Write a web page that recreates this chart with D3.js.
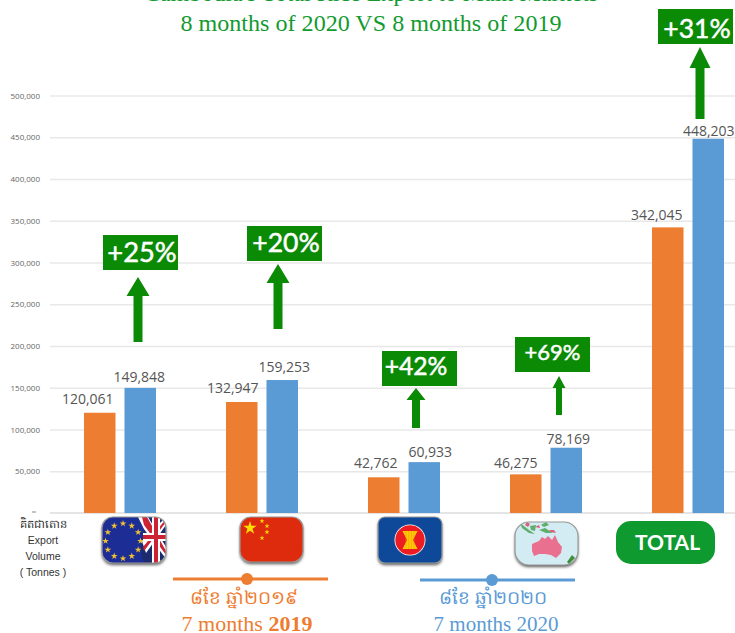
<!DOCTYPE html>
<html>
<head>
<meta charset="utf-8">
<script src="https://cdn.jsdelivr.net/npm/d3@7"></script>
<style>
  body { margin: 0; background: #fff; }
  svg { display: block; }
  .tick text { font-family: "Open Sans", sans-serif; font-size: 8px; fill: #666; }
  .tick line { stroke: #e8e8e8; stroke-width: 1.4; }
  .value { font-family: "Open Sans", sans-serif; font-size: 14px; fill: #555; text-anchor: middle; }
  .badge { font-family: Lato, sans-serif; font-weight: 400; fill: #fff; stroke: #fff; stroke-width: 0.5; text-anchor: middle; }
  .serif { font-family: "Liberation Serif", serif; text-anchor: middle; }
</style>
</head>
<body>
<svg width="735" height="633"></svg>
<script>
const categories = ["EU & UK", "China", "ASEAN", "Oceania", "TOTAL"];
const values2019 = [120061, 132947, 42762, 46275, 342045];
const values2020 = [149848, 159253, 60933, 78169, 448203];
const growthLabels = ["+25%", "+20%", "+42%", "+69%", "+31%"];
const yTicks = [50000, 100000, 150000, 200000, 250000, 300000, 350000, 400000, 450000, 500000];

// nudges, the labels are not centred on their bars
const labelDx2019 = [-12, -9, -8, -10, -11];
const labelDy2019 = [9, 9, 9, 6, 7];
const labelDx2020 = [-1, 2, 6, 2, 0.5];
const labelDy2020 = [6, 8, 5, 4, 3];

// badge [left, top, text centre, text baseline, font size]
const badgePos = [
  [103, 235, 142, 262, 27.3],
  [247, 226, 286, 252, 26.5],
  [382, 351, 416, 375, 24.7],
  [515, 337, 552.5, 360, 22],
  [658, 9, 697, 38, 26.5]
];
// arrow [x, tip, head base, tail, head width, shaft width]
const arrowPos = [
  [138, 277, 296, 342, 23, 9],
  [278, 264, 283, 329, 23, 9],
  [416, 388, 400, 428, 19, 8],
  [559, 376, 388, 415, 13, 6],
  [700, 47, 68, 119, 21, 9]
];

const orange = "#ed7d31", blue = "#5b9bd5", green = "#0b8a06", titleGreen = "#129a2f";

const svg = d3.select("svg");
const defs = svg.append("defs");

const yScale = d3.scaleLinear().domain([0, 500000]).range([513, 95.5]);
const xScale = d3.scaleBand().domain(categories)
  .range([48.5, 759.5]).paddingInner(0.493).paddingOuter(0.25);
const serie = d3.scaleBand().domain(["2019", "2020"])
  .range([0, xScale.bandwidth()]).paddingInner(0.222);

// title, first line is cut off by the top edge of the image
svg.append("text").attr("class", "serif")
  .attr("x", 371).attr("y", 1)
  .style("font-size", "24px").style("fill", titleGreen)
  .text("Cambodia's Total Rice Export to Main Markets");
svg.append("text").attr("class", "serif")
  .attr("x", 371).attr("y", 31)
  .style("font-size", "24.1px").style("fill", titleGreen)
  .text("8 months of 2020 VS 8 months of 2019");

const yAxis = d3.axisLeft(yScale)
  .tickValues(yTicks)
  .tickFormat(d3.format(","))
  .tickSize(-685)
  .tickPadding(10);

svg.append("g")
  .attr("transform", "translate(50,0)")
  .call(yAxis)
  .call(g => g.select(".domain").remove());

svg.append("line")
  .attr("x1", 50).attr("x2", 735)
  .attr("y1", yScale(0)).attr("y2", yScale(0))
  .style("stroke", "#ddd").style("stroke-width", 1.4);

svg.selectAll("rect.y2019")
  .data(values2019)
  .enter()
  .append("rect")
    .attr("class", "y2019")
    .attr("x", (d, i) => xScale(categories[i]) + serie("2019"))
    .attr("y", d => yScale(d))
    .attr("width", serie.bandwidth())
    .attr("height", d => yScale(0) - yScale(d))
    .style("fill", orange);

svg.selectAll("rect.y2020")
  .data(values2020)
  .enter()
  .append("rect")
    .attr("class", "y2020")
    .attr("x", (d, i) => xScale(categories[i]) + serie("2020"))
    .attr("y", d => yScale(d))
    .attr("width", serie.bandwidth())
    .attr("height", d => yScale(0) - yScale(d))
    .style("fill", blue);

svg.selectAll("text.v2019")
  .data(values2019)
  .enter()
  .append("text")
    .attr("class", "value v2019")
    .attr("x", (d, i) => xScale(categories[i]) + serie("2019") + serie.bandwidth() / 2 + labelDx2019[i])
    .attr("y", (d, i) => yScale(d) - labelDy2019[i])
    .text(d3.format(","));

svg.selectAll("text.v2020")
  .data(values2020)
  .enter()
  .append("text")
    .attr("class", "value v2020")
    .attr("x", (d, i) => xScale(categories[i]) + serie("2020") + serie.bandwidth() / 2 + labelDx2020[i])
    .attr("y", (d, i) => yScale(d) - labelDy2020[i])
    .text(d3.format(","));

// growth badges and arrows
svg.selectAll("rect.badgeBox")
  .data(badgePos)
  .enter()
  .append("rect")
    .attr("class", "badgeBox")
    .attr("x", d => d[0]).attr("y", d => d[1])
    .attr("width", 75).attr("height", 35)
    .style("fill", green);

svg.selectAll("text.badge")
  .data(growthLabels)
  .enter()
  .append("text")
    .attr("class", "badge")
    .attr("x", (d, i) => badgePos[i][2])
    .attr("y", (d, i) => badgePos[i][3])
    .style("font-size", (d, i) => badgePos[i][4] + "px")
    .text(d => d);

const arrowLine = d3.line();
svg.selectAll("path.arrow")
  .data(arrowPos)
  .enter()
  .append("path")
    .attr("class", "arrow")
    .style("fill", green)
    .attr("d", ([x, tip, base, tail, hw, sw]) => arrowLine([
      [x, tip], [x + hw / 2, base], [x + sw / 2, base], [x + sw / 2, tail],
      [x - sw / 2, tail], [x - sw / 2, base], [x - hw / 2, base]
    ]) + "Z");

// left caption
const caption = ["គិតជាតោន", "Export", "Volume", "( Tonnes )"];
svg.selectAll("text.caption")
  .data(caption)
  .enter()
  .append("text")
    .attr("class", "caption")
    .attr("x", 43)
    .attr("y", (d, i) => 528 + i * 16)
    .attr("text-anchor", "middle")
    .style("font-family", "'Liberation Sans', 'Noto Sans', sans-serif")
    .style("font-size", (d, i) => i == 0 ? "11.5px" : "10.5px")
    .style("fill", "#333")
    .text(d => d);

// small marker left of the baseline
svg.append("line").attr("x1", 32).attr("x2", 36).attr("y1", 512).attr("y2", 512)
  .style("stroke", "#888");

// icons under the bars
defs.append("filter").attr("id", "shadow")
  .attr("x", "-20%").attr("y", "-20%").attr("width", "140%").attr("height", "150%")
  .append("feDropShadow")
    .attr("dx", 0).attr("dy", 2).attr("stdDeviation", 1.8)
    .attr("flood-color", "#000").attr("flood-opacity", 0.65);
defs.append("filter").attr("id", "soft")
  .append("feGaussianBlur").attr("stdDeviation", 0.4);

function icon(id, x, y, w, h, r) {
  defs.append("clipPath").attr("id", id)
    .append("rect").attr("width", w).attr("height", h).attr("rx", r);
  const g = svg.append("g").attr("transform", `translate(${x},${y})`);
  g.append("rect").attr("width", w).attr("height", h).attr("rx", r)
    .style("fill", "#888").style("filter", "url(#shadow)");
  const inner = g.append("g").attr("clip-path", `url(#${id})`)
    .append("g").style("filter", "url(#soft)");
  g.append("rect").attr("width", w).attr("height", h).attr("rx", r)
    .style("fill", "none").style("stroke", "#9a9a9a").style("stroke-width", 1.2);
  return inner;
}

const star = d3.symbol().type(d3.symbolStar);

// EU + UK
const eu = icon("clipEU", 102, 517, 64, 46, 11);
eu.append("rect").attr("width", 64).attr("height", 46).style("fill", "#1d2f96");
eu.append("path").attr("d", "M42 0H64V46H42Q36 32 41 22Q44 10 36 0Z").style("fill", "#1c2c6e");
eu.append("path").attr("d", "M36 0H46L64 30V42L42 12ZM64 0V8L44 36L40 24Z").style("fill", "#fff");
eu.append("path").attr("d", "M40 0H45L64 34V38L42 8ZM64 2V5L42 34L41 30Z").style("fill", "#cc2136");
eu.append("path").attr("d", "M50 0H58V16H64V24H58V46H50V24H41V16H50Z").style("fill", "#fff");
eu.append("path").attr("d", "M52 0H56V18H64V22H56V46H52V22H41V18H52Z").style("fill", "#cc2136");
d3.range(12).forEach(i => {
  const a = i / 12 * 2 * Math.PI;
  eu.append("path")
    .attr("d", star.size(14)())
    .attr("transform", `translate(${21 + 17.5 * Math.sin(a)},${24 - 17.5 * Math.cos(a)})`)
    .style("fill", "#f2c230");
});

// China
const cn = icon("clipCN", 240, 517, 63, 45, 11);
cn.append("rect").attr("width", 63).attr("height", 45).style("fill", "#de2910");
cn.append("path").attr("d", star.size(55)()).attr("transform", "translate(10,11)").style("fill", "#ffde00");
[[22, 4], [27, 9], [27, 15], [22, 21]].forEach(p => {
  cn.append("path").attr("d", star.size(8)()).attr("transform", `translate(${p[0]},${p[1]})`).style("fill", "#ffde00");
});

// ASEAN
const as = icon("clipAS", 378, 517, 64, 46, 7);
as.append("rect").attr("width", 64).attr("height", 46).style("fill", "#0b4a98");
as.append("circle").attr("cx", 32).attr("cy", 23).attr("r", 15.5).style("fill", "#fff");
as.append("circle").attr("cx", 32).attr("cy", 23).attr("r", 14.7).style("fill", "#ed1c24");
as.append("path").attr("d", "M24.5 14H39.5L35 23L39.5 32H24.5L29 23Z").style("fill", "#ffcb05");
[28, 30.7, 33.3, 36].forEach(x => {
  as.append("line").attr("x1", x).attr("x2", x).attr("y1", 14).attr("y2", 32)
    .style("stroke", "#ed8a10").style("stroke-width", 0.5);
});

// Oceania map
const oc = icon("clipOC", 515, 522, 63, 43, 14);
oc.append("rect").attr("width", 63).attr("height", 43).style("fill", "#d3ebf2");
oc.append("path").attr("d", "M17 22L24 19L27 15L30 17L33 14L37 18L40 13L43 20L47 25L46 31L41 36L36 33L30 32L24 32L19 34L17 29Z").style("fill", "#ea6f8f");
oc.append("path").attr("d", "M5 1L14 8L20 12L14 11L7 6ZM15 4L21 3L20 9L16 8ZM24 8L30 6L38 11L31 11ZM26 3L31 0L34 3L29 5Z").style("fill", "#5fae6a");
oc.append("path").attr("d", "M10 3L12 0L15 2L13 5ZM20 5L24 3L25 6ZM34 8L39 8L41 11L36 10Z").style("fill", "#d9607d");
oc.append("path").attr("d", "M57 33L60 36L54 42L52 40Z").style("fill", "#3f8f3a");

// TOTAL pill
svg.append("rect").attr("x", 616).attr("y", 521).attr("width", 99).attr("height", 43).attr("rx", 15)
  .style("fill", "#0f9a30");
svg.append("text").attr("x", 667.5).attr("y", 550).attr("text-anchor", "middle")
  .style("font-family", "Lato, sans-serif").style("font-weight", 700).style("font-size", "21px")
  .style("fill", "#fff").text("TOTAL");

// period legend
const legendRows = [
  { x1: 173, x2: 328, cx: 247, y: 579, color: orange, khmer: "៨ខែ ឆ្នាំ២០១៩", tx: 244, tx2: 247, size: 22, label: "7 months ", year: "2019", bold: 700 },
  { x1: 420, x2: 575, cx: 492, y: 580, color: blue, khmer: "៨ខែ ឆ្នាំ២០២០", tx: 493, tx2: 496, size: 21, label: "7 months ", year: "2020", bold: 400 }
];
legendRows.forEach(d => {
  svg.append("line").attr("x1", d.x1).attr("x2", d.x2).attr("y1", d.y).attr("y2", d.y)
    .style("stroke", d.color).style("stroke-width", 3);
  svg.append("circle").attr("cx", d.cx).attr("cy", d.y).attr("r", 6).style("fill", d.color);
  svg.append("text").attr("x", d.tx).attr("y", 604).attr("text-anchor", "middle")
    .style("font-family", "'Noto Sans', 'DejaVu Sans', sans-serif").style("font-size", "18.5px")
    .style("fill", d.color).text(d.khmer);
  const t = svg.append("text").attr("class", "serif").attr("x", d.tx2).attr("y", 631)
    .style("font-size", d.size + "px").style("fill", d.color);
  t.append("tspan").text(d.label);
  t.append("tspan").style("font-weight", d.bold).text(d.year);
});
</script>
</body>
</html>
